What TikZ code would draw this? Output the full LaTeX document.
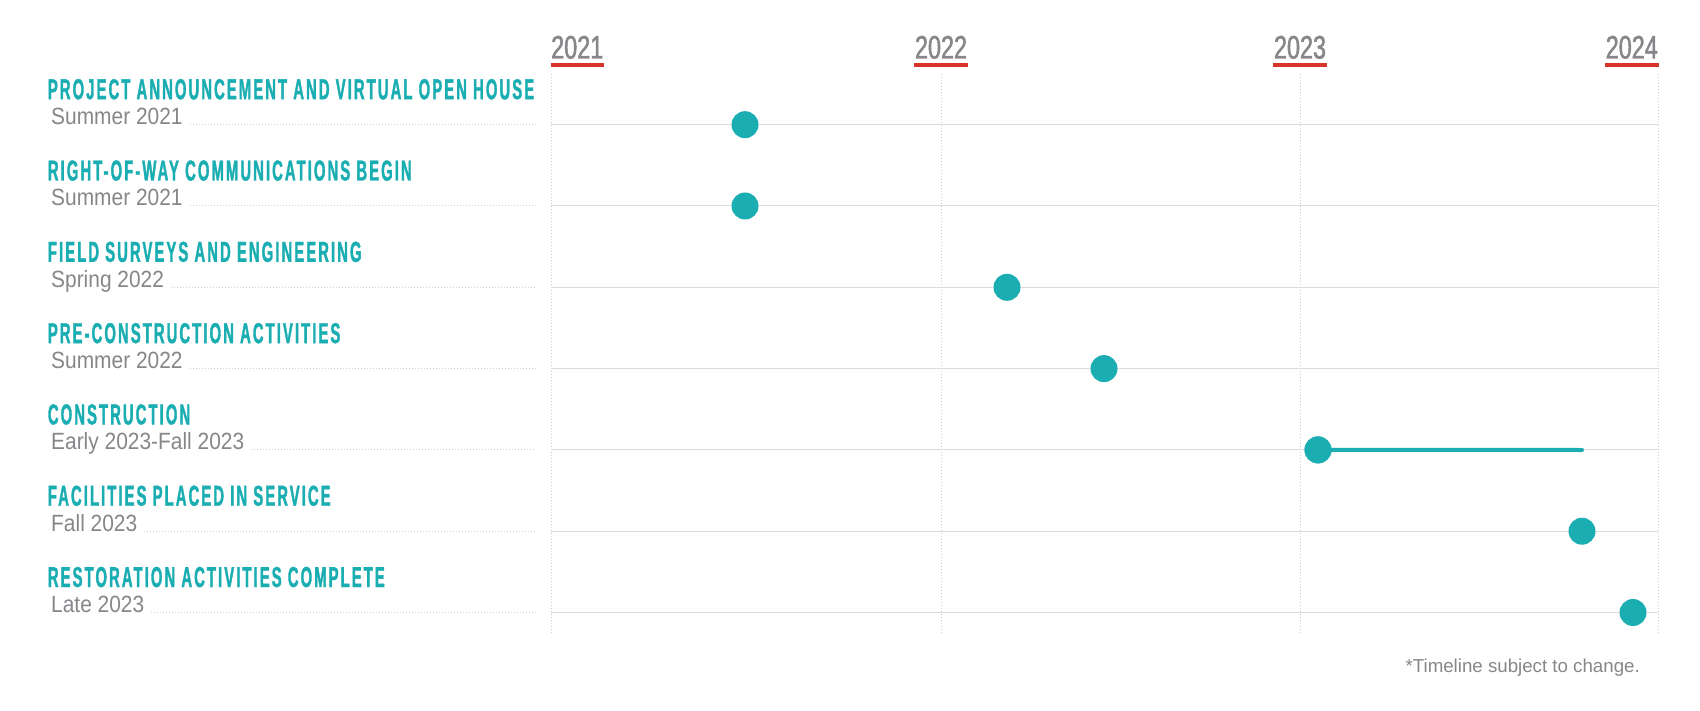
\documentclass[tikz,border=0pt]{standalone}
\usepackage{fontspec}
\newfontfamily\titlefont[FakeStretch=0.515,LetterSpace=7.2,FakeBold=1.2]{Liberation Sans Bold}
\newfontfamily\yearfont[FakeStretch=0.72,FakeBold=1.4]{Liberation Sans}
\newfontfamily\subfont[FakeStretch=0.89]{Liberation Sans}
\newfontfamily\notefont{Liberation Sans}
\definecolor{tealc}{HTML}{1AAEB2}
\definecolor{greytxt}{HTML}{86878A}
\definecolor{redc}{HTML}{D9342B}
\definecolor{rowgrey}{HTML}{DCDCDC}
\definecolor{gridgrey}{HTML}{CFCFCF}
\begin{document}
\begin{tikzpicture}[x=1pt,y=-1pt,
  titletxt/.style={anchor=base west, inner sep=0pt, text=tealc, font=\titlefont\fontsize{28.8}{30}\selectfont},
  subtxt/.style={anchor=base west, inner sep=0pt, text=greytxt, font=\subfont\fontsize{23.5}{25}\selectfont},
  yeartxt/.style={inner sep=0pt, text=greytxt, font=\yearfont\fontsize{32.5}{34}\selectfont},
  yearline/.style={draw=redc, line width=4pt},
  notetxt/.style={anchor=base east, inner sep=0pt, text=greytxt, font=\notefont\fontsize{18.7}{20}\selectfont},
  rowline/.style={draw=rowgrey, line width=1pt},
  vgrid/.style={draw=gridgrey, line width=1pt, dash pattern=on 1.5pt off 1.5pt},
  leader/.style={draw=gridgrey, line width=1pt, dash pattern=on 1pt off 2pt},
  dotnode/.style={circle, fill=tealc, minimum size=27pt, inner sep=0pt},
  spanline/.style={draw=tealc, line width=4pt, line cap=round}]
\useasboundingbox (0,0) rectangle (1700,711);
\fill[white] (0,0) rectangle (1700,711);
% vertical gridlines
\foreach \x/\n in {551/ga,941/gb,1300/gc,1658/gd}{
  \coordinate (\n top) at (\x,73.7);
  \coordinate (\n bot) at (\x,632);
  \draw[vgrid] (\n top) -- (\n bot);
}
% year labels
\node[yeartxt, anchor=base west] (y1) at (551,58.5) {2021};
\node[yeartxt, anchor=base] (y2) at (941,58.5) {2022};
\node[yeartxt, anchor=base] (y3) at (1300,58.5) {2023};
\node[yeartxt, anchor=base east] (y4) at (1658,58.5) {2024};
\foreach \n in {y1,y2,y3,y4}{
  \draw[yearline] ([yshift=-6.2pt,xshift=-0.5pt]\n.base west) -- ([yshift=-6.2pt,xshift=0.5pt]\n.base east);
}
% rows
\foreach \i/\t/\s/\dx in {
  1/{PROJECT ANNOUNCEMENT AND VIRTUAL OPEN HOUSE}/{Summer 2021}/745,
  2/{RIGHT-OF-WAY COMMUNICATIONS BEGIN}/{Summer 2021}/745,
  3/{FIELD SURVEYS AND ENGINEERING}/{Spring 2022}/1007,
  4/{PRE-CONSTRUCTION ACTIVITIES}/{Summer 2022}/1104,
  5/{CONSTRUCTION}/{Early 2023-Fall 2023}/1318,
  6/{FACILITIES PLACED IN SERVICE}/{Fall 2023}/1582,
  7/{RESTORATION ACTIVITIES COMPLETE}/{Late 2023}/1633}{
  \pgfmathsetmacro{\ry}{124.7+81.3*(\i-1)}
  \coordinate (r\i a) at (551,\ry);
  \coordinate (r\i b) at (1658,\ry);
  \draw[rowline] (r\i a) -- (r\i b);
  \node[titletxt] (t\i) at (47.7,\ry-25.5) {\t};
  \node[subtxt] (s\i) at (51,\ry) {\s};
  \coordinate (l\i) at (536,\ry);
  \draw[leader] ([xshift=7pt]s\i.base east) -- (l\i);
  \node[dotnode] (d\i) at (\dx,\ry) {};
}
\coordinate (e5) at (1582,450);
\draw[spanline] (d5.center) -- (e5);
\node[dotnode] at (d5) {};
% footnote
\node[notetxt] (note) at (1640,672.7) {*Timeline subject to change.};
\end{tikzpicture}
\end{document}
